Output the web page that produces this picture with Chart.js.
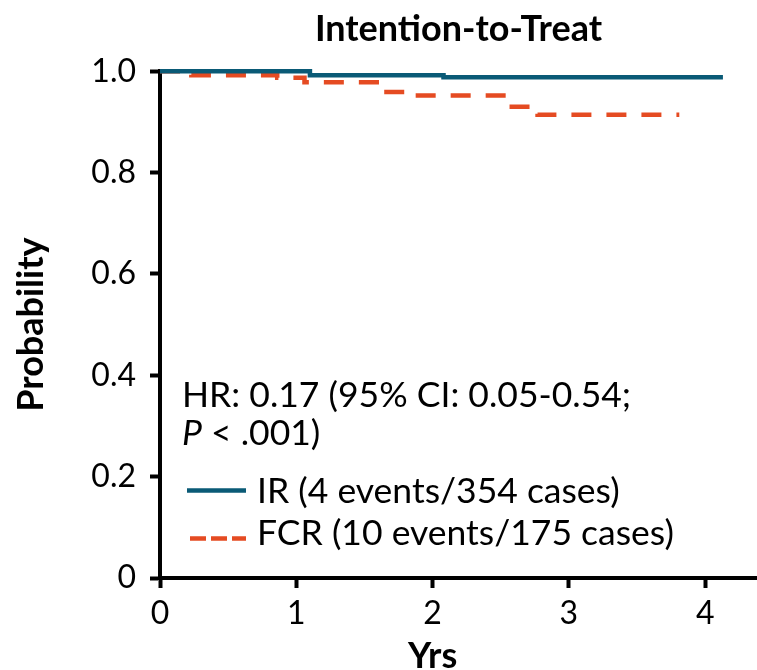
<!DOCTYPE html>
<html>
<head>
<meta charset="utf-8">
<script src="https://cdn.jsdelivr.net/npm/chart.js@4.4.1/dist/chart.umd.min.js"></script>
<style>
  html, body { margin: 0; padding: 0; background: #fff; }
  #wrap { width: 757px; height: 670px; }
</style>
</head>
<body>
<div id="wrap"><canvas id="kmChart" width="757" height="670"></canvas></div>
<script>
// ==================== DATA ====================
const chartTitle = 'Intention-to-Treat';
const xAxisTitle = 'Yrs';
const yAxisTitle = 'Probability';
const xTicks = [0, 1, 2, 3, 4];
const yTicks = [0, 0.2, 0.4, 0.6, 0.8, 1.0];

// IR arm (Kaplan-Meier steps)
const irYears = [0, 1.10, 2.08, 4.13];
const irProb = [1.0, 0.992, 0.988, 0.988];

// FCR arm
const fcrYears = [0, 0.23, 0.86, 1.06, 1.59, 1.81, 2.55, 2.77, 3.81];
const fcrProb = [1.0, 0.992, 0.987, 0.978, 0.959, 0.952, 0.930, 0.914, 0.914];

const seriesLabels = ['IR (4 events/354 cases)', 'FCR (10 events/175 cases)'];
const hrText = 'HR: 0.17 (95% CI: 0.05-0.54;';
const pText = ['P', ' < .001)'];

const irColor = '#0a5a76';
const fcrColor = '#e54b22';
const FONT = 'Lato, "Open Sans", sans-serif';

function toPoints(xs, ys) {
    return xs.map((x, i) => ({ x: x, y: ys[i] }));
}

// ==================== ANNOTATION / LEGEND ====================
const annotationPlugin = {
    id: 'kmAnnotations',
    afterDraw(chart) {
        const ctx = chart.ctx;
        ctx.save();
        ctx.fillStyle = '#000';
        ctx.textBaseline = 'alphabetic';
        ctx.textAlign = 'left';

        // HR text
        ctx.font = `35.5px ${FONT}`;
        ctx.fillText(hrText, 182, 407);
        ctx.font = `italic 35.5px ${FONT}`;
        ctx.fillText(pText[0], 182, 445);
        const pw = ctx.measureText(pText[0]).width;
        ctx.font = `35.5px ${FONT}`;
        ctx.fillText(pText[1], 182 + pw, 445);

        // legend
        ctx.lineWidth = 4.5;
        ctx.strokeStyle = irColor;
        ctx.setLineDash([]);
        ctx.beginPath();
        ctx.moveTo(187, 490.5);
        ctx.lineTo(246, 490.5);
        ctx.stroke();
        ctx.fillText(seriesLabels[0], 257, 503);

        ctx.strokeStyle = fcrColor;
        ctx.setLineDash([16, 5]);
        ctx.beginPath();
        ctx.moveTo(190, 538.5);
        ctx.lineTo(246, 538.5);
        ctx.stroke();
        ctx.setLineDash([]);
        ctx.fillText(seriesLabels[1], 257, 545);

        // x axis title
        ctx.font = `bold 36px ${FONT}`;
        ctx.textAlign = 'center';
        ctx.fillText(xAxisTitle, chart.scales.x.getPixelForValue(2), 668);
        ctx.restore();
    }
};

// ==================== CHART ====================
function drawChart() {
    const ctx = document.getElementById('kmChart').getContext('2d');
    new Chart(ctx, {
        type: 'line',
        data: {
            datasets: [{
                label: seriesLabels[0],
                data: toPoints(irYears, irProb),
                borderColor: irColor,
                borderWidth: 4.5,
                stepped: 'before',
                pointRadius: 0,
                fill: false,
                clip: false
            }, {
                label: seriesLabels[1],
                data: toPoints(fcrYears, fcrProb),
                borderColor: fcrColor,
                borderWidth: 4.5,
                borderDash: [20, 15],
                stepped: 'before',
                pointRadius: 0,
                fill: false,
                clip: false
            }]
        },
        options: {
            responsive: false,
            animation: false,
            layout: { padding: 0 },
            plugins: {
                legend: { display: false },
                tooltip: { enabled: false },
                title: {
                    display: true,
                    text: chartTitle,
                    fullSize: false,
                    color: '#000',
                    font: { family: FONT, size: 36, weight: 'bold' },
                    padding: { top: 8, bottom: 20 }
                }
            },
            scales: {
                x: {
                    type: 'linear',
                    min: 0,
                    max: 4.38,
                    afterBuildTicks: s => { s.ticks = xTicks.map(v => ({ value: v })); },
                    afterFit: s => { s.height = 92; },
                    ticks: {
                        color: '#000',
                        padding: 6,
                        font: { family: FONT, size: 32 },
                        callback: v => String(v)
                    },
                    grid: { drawOnChartArea: false, drawTicks: true, tickLength: 10, tickWidth: 4, color: '#000' },
                    border: { display: true, color: '#000', width: 4 }
                },
                y: {
                    type: 'linear',
                    min: 0,
                    max: 1,
                    afterBuildTicks: s => { s.ticks = yTicks.map(v => ({ value: v })); },
                    afterFit: s => { s.width = 160; },
                    ticks: {
                        color: '#000',
                        padding: 14,
                        font: { family: FONT, size: 32 },
                        callback: v => (v === 0 ? '0' : v.toFixed(1))
                    },
                    title: {
                        display: true,
                        text: yAxisTitle,
                        color: '#000',
                        font: { family: FONT, size: 36, weight: 'bold' },
                        padding: { top: 10, bottom: 0 }
                    },
                    grid: { drawOnChartArea: false, drawTicks: true, tickLength: 10, tickWidth: 4, color: '#000' },
                    border: { display: true, color: '#000', width: 4 }
                }
            }
        },
        plugins: [annotationPlugin]
    });
}

drawChart();
</script>
</body>
</html>
